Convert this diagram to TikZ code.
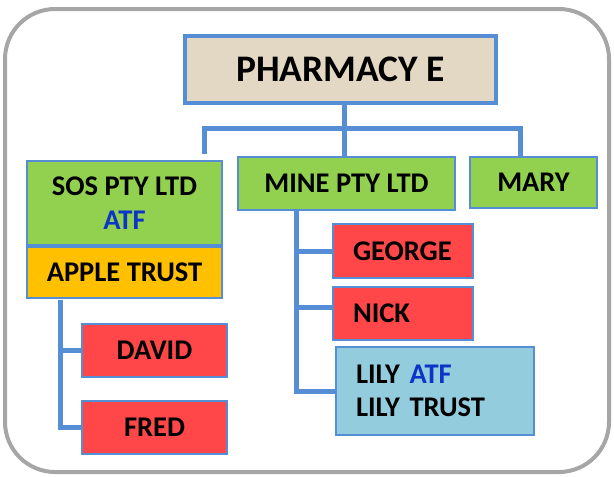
\documentclass[tikz,border=0pt]{standalone}
\usepackage{fontspec}
\setmainfont{Carlito}
\usepackage{tikz}

\definecolor{linkblue}{HTML}{558ED5}
\definecolor{boxgreen}{HTML}{92D050}
\definecolor{boxorange}{HTML}{FFC000}
\definecolor{boxred}{HTML}{FF474A}
\definecolor{boxcyan}{HTML}{93CDDD}
\definecolor{atfblue}{HTML}{0A35C8}
\definecolor{framegray}{HTML}{A6A6A6}
\definecolor{linen}{HTML}{E3D8C4}

\newcommand{\atf}{\textcolor{atfblue}{ATF}}

\begin{document}
\begin{tikzpicture}[x=1pt,y=-1pt,
  box/.style={draw=linkblue,line width=1.2pt,inner sep=0pt,align=center,
    font=\bfseries\fontsize{28.5}{33.5}\selectfont},
  leftbox/.style={box,inner xsep=20pt,align=left},
  link/.style={draw=linkblue,line width=5pt}]
\useasboundingbox (0,0) rectangle (614,477);
\draw[framegray,line width=4pt,rounded corners=50pt] (5,9) rectangle (609,472);

% top
\node[box,fill=linen,line width=4pt,minimum width=311pt,minimum height=67pt,
  font=\bfseries\fontsize{37.5}{42}\selectfont] (pharm) at (340.5,69.5) {PHARMACY E};

% second row
\node[box,fill=boxgreen,minimum width=195pt,minimum height=84pt] (sos) at (124.5,203) {SOS PTY LTD\\ \atf};
\node[box,fill=boxorange,minimum width=195pt,minimum height=51pt] (apple) at (124.5,272.5) {APPLE TRUST};
\node[box,fill=boxgreen,minimum width=217pt,minimum height=53pt] (mine) at (346.5,183.5) {MINE PTY LTD};
\node[box,fill=boxgreen,minimum width=127pt,minimum height=51pt] (mary) at (533.5,182.5) {MARY};

% under apple trust
\node[box,fill=boxred,minimum width=145pt,minimum height=53pt] (david) at (154.5,350.5) {DAVID};
\node[box,fill=boxred,minimum width=145pt,minimum height=53pt] (fred) at (154.5,427.5) {FRED};

% under mine pty ltd
\node[leftbox,fill=boxred,text width=100pt,minimum height=54pt] (george) at (403,251) {GEORGE};
\node[leftbox,fill=boxred,text width=100pt,minimum height=53pt] (nick) at (403,313.5) {NICK};
\node[leftbox,fill=boxcyan,text width=158pt,minimum height=88pt] (lily) at (435,391) {LILY \atf\\ LILY TRUST};

% links
\coordinate (busL) at (204,128);
\coordinate (busR) at (520,128);
\coordinate (busM) at (344,128);
\coordinate (trunkA) at (60,300);
\coordinate (trunkB) at (296,210);

\draw[link] (pharm.south -| busM) -- (mine.north -| busM);
\draw[link] ([yshift=6pt]sos.north -| busL) -- (busL) -- (busR) -- (mary.north -| busR);

\draw[link] (trunkA) -- (trunkA |- fred.west) -- (fred.west);
\draw[link] (trunkA |- david.west) -- (david.west);

\draw[link] (trunkB) -- (trunkB |- lily.west) -- (lily.west);
\draw[link] (trunkB |- george.west) -- (george.west);
\draw[link] ([yshift=6pt]trunkB |- nick.west) -- ([yshift=6pt]nick.west);
\end{tikzpicture}
\end{document}
